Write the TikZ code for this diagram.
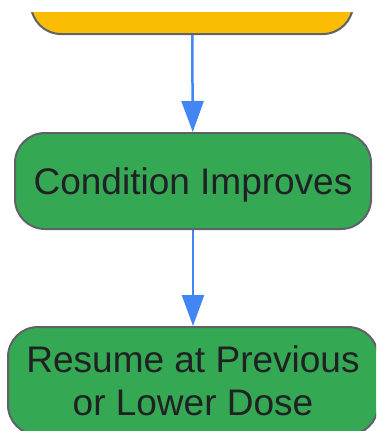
\documentclass[tikz,border=0pt]{standalone}
\usepackage{fontspec}
\setmainfont{Liberation Sans}
\usetikzlibrary{arrows.meta}
\definecolor{stepyellow}{HTML}{FBBC04}
\definecolor{stepgreen}{HTML}{34A853}
\definecolor{stepedge}{HTML}{5F6368}
\definecolor{flowblue}{HTML}{4285F4}
\definecolor{steptext}{HTML}{202124}
\begin{document}
\begin{tikzpicture}[x=1pt,y=-1pt,
  box/.style={draw=stepedge,line width=2pt,rounded corners=30pt,align=center,
    text=steptext,font=\fontsize{37}{43}\selectfont,text depth=0pt,inner sep=0pt},
  flow/.style={flowblue,line width=2.5pt,-{Triangle[length=31pt,width=22pt]}}]
\useasboundingbox(0,0)rectangle(376,431);
\clip(0,12)rectangle(376,431);
\node[box,fill=stepyellow,minimum width=322pt,minimum height=96pt](hold)at(192,-14){};
\node[box,fill=stepgreen,minimum width=356pt,minimum height=96pt](improve)at(193,181){Condition Improves};
\node[box,fill=stepgreen,minimum width=370pt,minimum height=108pt](resume)at(193,381){Resume at Previous\\or Lower Dose};
\draw[flow](hold)--(improve);
\draw[flow](improve)--(resume);
\end{tikzpicture}
\end{document}
